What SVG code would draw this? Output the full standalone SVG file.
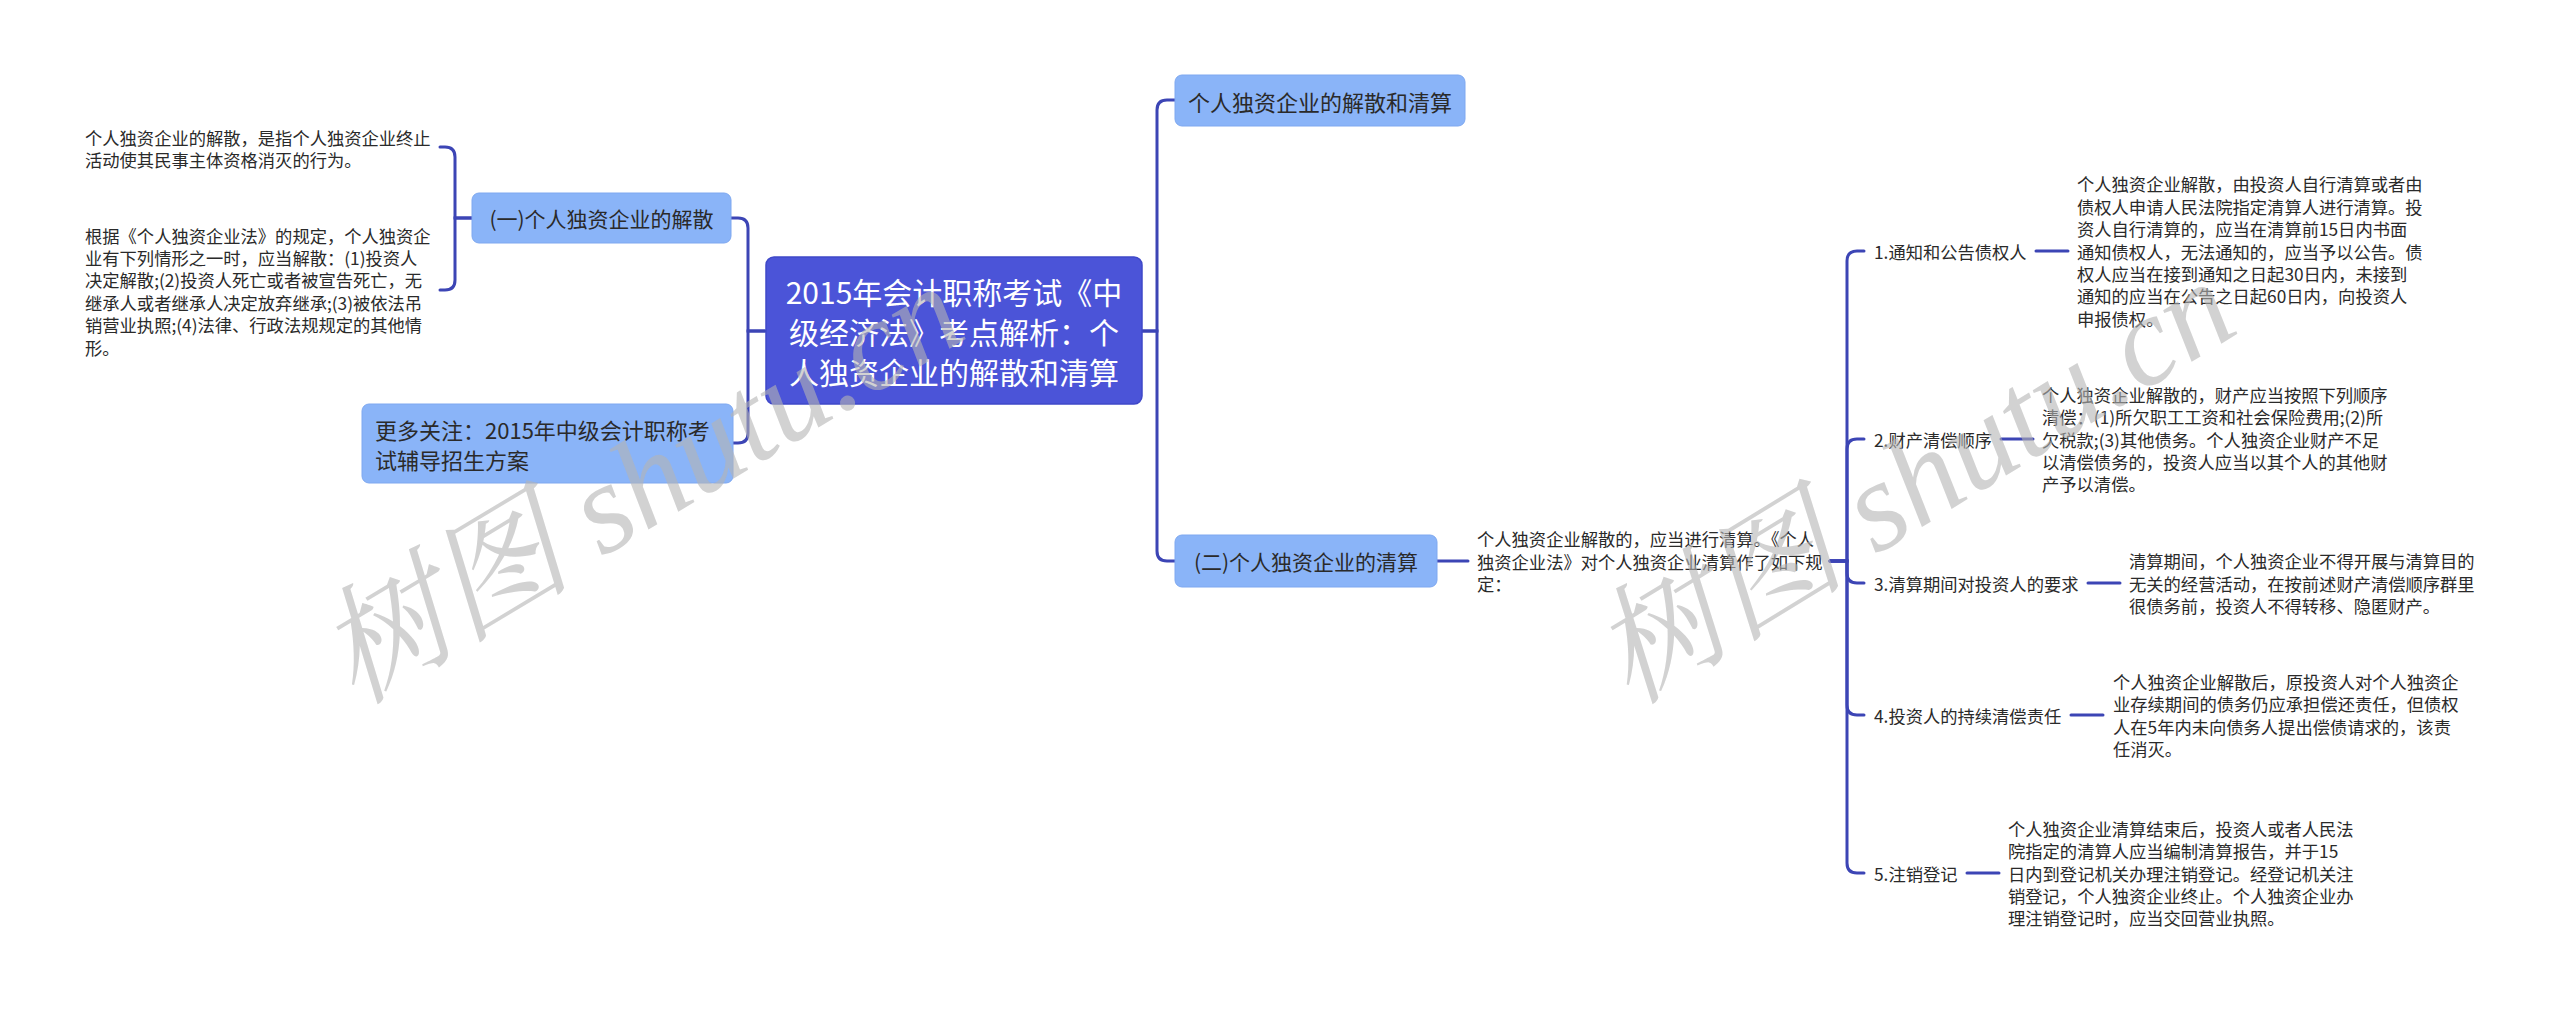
<svg xmlns="http://www.w3.org/2000/svg" width="2560" height="1011" viewBox="0 0 2560 1011">
<style>
text{font-family:"Noto Sans CJK SC","Microsoft YaHei",sans-serif;dominant-baseline:central}
.conn{fill:none;stroke:#3c45b5;stroke-width:3;stroke-linecap:round}
.root{fill:#4b54d8;stroke:#3f48c8;stroke-width:1.5}
.rootT{fill:#fff;font-size:30px;text-anchor:middle}
.l1{fill:#8ab4f8;stroke:#7ea8f0;stroke-width:1}
.l1T{fill:#2a2a2a;font-size:22px}
.l1C{fill:#2a2a2a;font-size:21px;text-anchor:middle}
.leaf{fill:#2a2a2a;font-size:17.3px}
.wm{font-family:"Liberation Serif","Noto Serif CJK SC","Noto Sans CJK SC",serif;font-style:italic;font-size:128px;fill:#b4b4b4;fill-opacity:0.6;dominant-baseline:alphabetic}
</style>
<rect width="2560" height="1011" fill="#fff"/>
<g id="connectors">
<path class="conn" d="M765,331 H748 V228 Q748,218 738,218 H731"/>
<path class="conn" d="M765,331 H748 V433 Q748,443 738,443 H733"/>
<path class="conn" d="M472,218 H455 V157 Q455,147 445,147 H440"/>
<path class="conn" d="M472,218 H455 V280 Q455,290 445,290 H440"/>
<path class="conn" d="M1142,331 H1157 V110 Q1157,100 1167,100 H1175"/>
<path class="conn" d="M1142,331 H1157 V551 Q1157,561 1167,561 H1175"/>
<path class="conn" d="M1437,561 H1468"/>
<path class="conn" d="M1830,561 H1847 V261 Q1847,251 1857,251 H1864"/>
<path class="conn" d="M1830,561 H1847 V449 Q1847,439 1857,439 H1864"/>
<path class="conn" d="M1830,561 H1847 V573 Q1847,583 1857,583 H1864"/>
<path class="conn" d="M1830,561 H1847 V705 Q1847,715 1857,715 H1864"/>
<path class="conn" d="M1830,561 H1847 V863 Q1847,873 1857,873 H1864"/>
<path class="conn" d="M2036,251 H2068"/>
<path class="conn" d="M2001,439 H2033"/>
<path class="conn" d="M2088,583 H2120"/>
<path class="conn" d="M2071,715 H2103"/>
<path class="conn" d="M1967,873 H1999"/>
</g>
<g id="root">
<rect class="root" x="766" y="257" width="376" height="147" rx="8"/>
<text class="rootT" x="954" y="291">2015年会计职称考试《中</text>
<text class="rootT" x="954" y="331">级经济法》考点解析：个</text>
<text class="rootT" x="954" y="371">人独资企业的解散和清算</text>
</g>
<g id="n-jiesan">
<rect class="l1" x="472" y="193" width="259" height="50" rx="7"/>
<text class="l1C" x="601.5" y="218">(一)个人独资企业的解散</text>
</g>
<g id="n-more">
<rect class="l1" x="362" y="404" width="371" height="79" rx="7"/>
<text class="l1T" x="375" y="429">更多关注：2015年中级会计职称考</text>
<text class="l1T" x="375" y="459">试辅导招生方案</text>
</g>
<g id="n-leftleaf1">
<text class="leaf" x="85" y="137">个人独资企业的解散，是指个人独资企业终止</text>
<text class="leaf" x="85" y="159.4">活动使其民事主体资格消灭的行为。</text>
</g>
<g id="n-leftleaf2">
<text class="leaf" x="85" y="235">根据《个人独资企业法》的规定，个人独资企</text>
<text class="leaf" x="85" y="257.4">业有下列情形之一时，应当解散：(1)投资人</text>
<text class="leaf" x="85" y="279.8">决定解散;(2)投资人死亡或者被宣告死亡，无</text>
<text class="leaf" x="85" y="302.2">继承人或者继承人决定放弃继承;(3)被依法吊</text>
<text class="leaf" x="85" y="324.6">销营业执照;(4)法律、行政法规规定的其他情</text>
<text class="leaf" x="85" y="347">形。</text>
</g>
<g id="n-title2">
<rect class="l1" x="1175" y="75" width="290" height="51" rx="7"/>
<text class="l1T" x="1320" y="100.5" text-anchor="middle">个人独资企业的解散和清算</text>
</g>
<g id="n-qingsuan">
<rect class="l1" x="1175" y="535" width="262" height="52" rx="7"/>
<text class="l1C" x="1306" y="561">(二)个人独资企业的清算</text>
</g>
<g id="n-qs-text">
<text class="leaf" x="1477" y="538.6">个人独资企业解散的，应当进行清算。《个人</text>
<text class="leaf" x="1477" y="561">独资企业法》对个人独资企业清算作了如下规</text>
<text class="leaf" x="1477" y="583.4">定：</text>
</g>
<g id="n-item1">
<text class="leaf" x="1874" y="251">1.通知和公告债权人</text>
</g>
<g id="n-item1-leaf">
<text class="leaf" x="2077" y="183.8">个人独资企业解散，由投资人自行清算或者由</text>
<text class="leaf" x="2077" y="206.2">债权人申请人民法院指定清算人进行清算。投</text>
<text class="leaf" x="2077" y="228.6">资人自行清算的，应当在清算前15日内书面</text>
<text class="leaf" x="2077" y="251">通知债权人，无法通知的，应当予以公告。债</text>
<text class="leaf" x="2077" y="273.4">权人应当在接到通知之日起30日内，未接到</text>
<text class="leaf" x="2077" y="295.8">通知的应当在公告之日起60日内，向投资人</text>
<text class="leaf" x="2077" y="318.2">申报债权。</text>
</g>
<g id="n-item2">
<text class="leaf" x="1874" y="439">2.财产清偿顺序</text>
</g>
<g id="n-item2-leaf">
<text class="leaf" x="2042" y="394.2">个人独资企业解散的，财产应当按照下列顺序</text>
<text class="leaf" x="2042" y="416.6">清偿：(1)所欠职工工资和社会保险费用;(2)所</text>
<text class="leaf" x="2042" y="439">欠税款;(3)其他债务。个人独资企业财产不足</text>
<text class="leaf" x="2042" y="461.4">以清偿债务的，投资人应当以其个人的其他财</text>
<text class="leaf" x="2042" y="483.8">产予以清偿。</text>
</g>
<g id="n-item3">
<text class="leaf" x="1874" y="583">3.清算期间对投资人的要求</text>
</g>
<g id="n-item3-leaf">
<text class="leaf" x="2129" y="560.6">清算期间，个人独资企业不得开展与清算目的</text>
<text class="leaf" x="2129" y="583">无关的经营活动，在按前述财产清偿顺序群里</text>
<text class="leaf" x="2129" y="605.4">很债务前，投资人不得转移、隐匿财产。</text>
</g>
<g id="n-item4">
<text class="leaf" x="1874" y="715">4.投资人的持续清偿责任</text>
</g>
<g id="n-item4-leaf">
<text class="leaf" x="2113" y="681.4">个人独资企业解散后，原投资人对个人独资企</text>
<text class="leaf" x="2113" y="703.8">业存续期间的债务仍应承担偿还责任，但债权</text>
<text class="leaf" x="2113" y="726.2">人在5年内未向债务人提出偿债请求的，该责</text>
<text class="leaf" x="2113" y="748.6">任消灭。</text>
</g>
<g id="n-item5">
<text class="leaf" x="1874" y="873">5.注销登记</text>
</g>
<g id="n-item5-leaf">
<text class="leaf" x="2008" y="828.2">个人独资企业清算结束后，投资人或者人民法</text>
<text class="leaf" x="2008" y="850.6">院指定的清算人应当编制清算报告，并于15</text>
<text class="leaf" x="2008" y="873">日内到登记机关办理注销登记。经登记机关注</text>
<text class="leaf" x="2008" y="895.4">销登记，个人独资企业终止。个人独资企业办</text>
<text class="leaf" x="2008" y="917.8">理注销登记时，应当交回营业执照。</text>
</g>
<g id="watermarks">
<text class="wm" transform="translate(355,706) rotate(-31)">树图 shutu.cn</text>
<text class="wm" transform="translate(1630,706) rotate(-31.5)">树图 shutu.cn</text>
</g>
</svg>
